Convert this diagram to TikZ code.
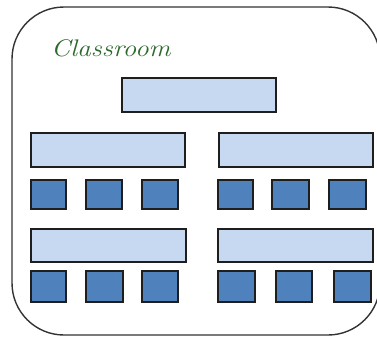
\documentclass[tikz,border=0pt]{standalone}
\usepackage{tikz}
\definecolor{deskfill}{RGB}{198,217,241}
\definecolor{seatfill}{RGB}{79,129,189}
\definecolor{edgecol}{RGB}{30,30,30}
\definecolor{titlecol}{RGB}{45,105,45}
\begin{document}
\begin{tikzpicture}[x=1pt,y=-1pt,
  desk/.style={draw=edgecol,line width=1.2pt,fill=deskfill},
  seat/.style={draw=edgecol,line width=1.2pt,fill=seatfill},
  room/.style={draw=black!80,line width=1.4pt,rounded corners=52pt}]
\useasboundingbox (0,0) rectangle (377,338);
\begin{scope}
\clip (0,0) rectangle (377,338);
\draw[room] (12,7) rectangle (380,335);
\end{scope}
\node[anchor=west,text=titlecol,font=\itshape\fontsize{24}{24}\selectfont,inner sep=0pt,xscale=1.14] (title) at (51,48) {Classroom};
% teacher desk
\path[desk] (122,78) rectangle (276,112);
% row 1 tables
\path[desk] (31,133) rectangle (185,167);
\path[desk] (219,133) rectangle (373,167);
% row 1 seats
\path[seat] (31,180) rectangle (66,209);
\path[seat] (86,180) rectangle (122,209);
\path[seat] (142,180) rectangle (178,209);
\path[seat] (218,180) rectangle (253,209);
\path[seat] (272,180) rectangle (309,209);
\path[seat] (329,180) rectangle (366,209);
% row 2 tables
\path[desk] (31,229) rectangle (186,262);
\path[desk] (218,229) rectangle (373,262);
% row 2 seats
\path[seat] (31,271) rectangle (66,302);
\path[seat] (86,271) rectangle (123,302);
\path[seat] (142,271) rectangle (178,302);
\path[seat] (218,271) rectangle (255,302);
\path[seat] (276,271) rectangle (312,302);
\path[seat] (334,271) rectangle (371,302);
\end{tikzpicture}
\end{document}
